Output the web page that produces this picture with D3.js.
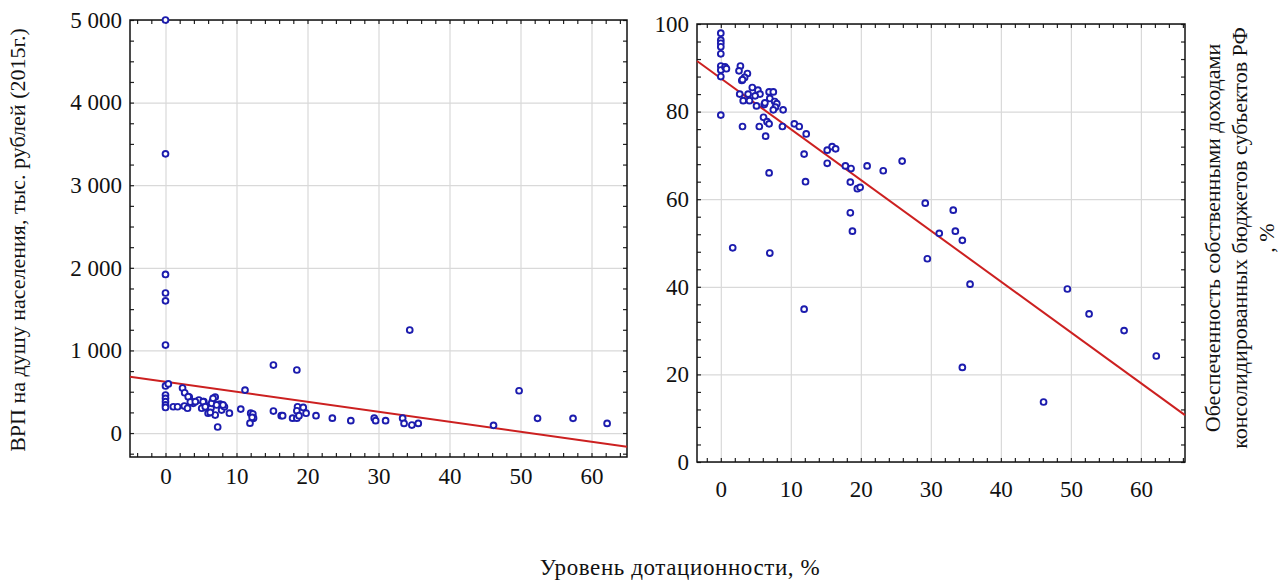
<!DOCTYPE html>
<html>
<head>
<meta charset="utf-8">
<script src="https://cdn.jsdelivr.net/npm/d3@7"></script>
<style>
  body { margin: 0; background: #fff; }
  text { font-family: "Liberation Serif", "Times New Roman", serif; fill: #111; }
</style>
</head>
<body>
<div id="container"></div>
<script>
// left panel: dotation level vs GRP per capita
let leftX = [0, 0, 0, 0, 0, 0, 0, 0.4, 0, 0, 0, 0, 0,
  1.1, 1.7, 2.4, 2.7, 2.65, 3.1, 3.35, 3.6, 3.9, 4.7, 5.1, 5.4, 5.8, 6.0, 6.4, 6.6, 7.0, 7.0, 7.35, 7.7, 7.9, 8.3, 9.0,
  10.6, 11.2, 12.0, 12.3, 12.4, 11.9, 3.2, 3.5, 4.2, 5.3, 5.6, 6.3, 6.5, 6.7, 7.2, 8.1, 12.2,
  15.2, 18.5, 15.2, 16.3, 16.5, 17.9, 18.5, 18.6, 18.5, 19.4, 18.8, 19.8, 21.2, 23.5, 26.1,
  29.4, 29.6, 31.0, 33.4, 33.6, 34.4, 34.7, 35.6, 46.2, 49.8, 52.4, 57.4, 62.2];
let leftY = [5000, 3380, 1920, 1695, 1600, 1065, 570, 595, 460, 420, 380, 340, 310,
  318, 318, 545, 488, 327, 300, 435, 380, 360, 400, 300, 380, 327, 240, 300, 385, 435, 218, 73, 350, 278, 318, 240,
  290, 520, 240, 230, 180, 120, 440, 375, 380, 380, 318, 250, 360, 420, 340, 340, 190,
  823, 763, 266, 210, 210, 180, 180, 318, 270, 310, 210, 240, 210, 180, 150,
  180, 150, 150, 180, 117, 1247, 97, 117, 93, 512, 178, 178, 117];
let leftFit = [620, -12.1]; // intercept, slope

// right panel: dotation level vs own revenue coverage
let rightX = [0, 0, 0, 0, 0, 0, 0, 0, 0, 0.6, 0.8,
  2.8, 2.6, 3.8, 3.4, 3.0, 3.1, 4.5, 5.3, 5.6, 4.9, 3.9, 2.7, 3.2, 4.1, 5.1, 6.2, 6.3, 6.9, 7.5, 7.0, 7.7, 8.0, 7.8,
  7.5, 8.9, 6.1, 6.6, 6.9, 3.1, 5.5, 8.8, 6.4, 10.5, 11.2, 12.2, 11.9, 6.9, 12.1, 15.2, 15.9, 16.4, 15.2,
  17.8, 18.6, 20.9, 23.2, 25.9, 18.5, 19.5, 19.9, 18.5, 18.8, 11.9, 29.2, 33.2, 33.5, 34.5, 31.2, 29.5,
  35.6, 34.5, 49.5, 52.6, 57.6, 62.2, 46.1, 1.7, 7.0];
let rightY = [97.9, 96.3, 95.6, 94.8, 93.2, 90.4, 89.5, 88.0, 79.2, 90.2, 89.8,
  90.4, 89.3, 88.7, 87.8, 87.1, 87.3, 85.5, 84.9, 84.0, 83.6, 84.0, 84.0, 82.5, 82.5, 81.3, 81.6, 82.0, 84.5, 84.5, 83.0, 82.3, 81.8, 81.0,
  80.4, 80.4, 78.7, 77.7, 77.2, 76.6, 76.6, 76.6, 74.4, 77.2, 76.6, 74.9, 70.3, 66.0, 64.0, 71.2, 72.0, 71.5, 68.2,
  67.6, 67.0, 67.6, 66.5, 68.7, 63.9, 62.4, 62.7, 56.9, 52.7, 34.9, 59.1, 57.5, 52.7, 50.6, 52.2, 46.4,
  40.6, 21.6, 39.5, 33.8, 30.0, 24.2, 13.7, 48.9, 47.7];
let rightFit = [87.6, -1.16];

let xTicks = [0, 10, 20, 30, 40, 50, 60];
let leftYTicks = [0, 1000, 2000, 3000, 4000, 5000];
let rightYTicks = [0, 20, 40, 60, 80, 100];

let w = 1284;
let h = 580;
let serif = "Liberation Serif";
let pointColor = "#1c1cae";
let lineColor = "#cc2020";

let viz = d3.select("#container")
  .append("svg")
    .attr("width", w)
    .attr("height", h)
;

// russian style thousands: "5 000"
function fmtThousands(v){
  return d3.format(",")(v).replace(/,/g, " ");
}

function drawPanel(opt){
  let xScale = d3.scaleLinear().domain(opt.xDomain).range([opt.left, opt.right]);
  let yScale = d3.scaleLinear().domain(opt.yDomain).range([opt.bottom, opt.top]);
  let pw = opt.right - opt.left;
  let ph = opt.bottom - opt.top;
  let g = viz.append("g");

  // grid
  g.append("g")
    .attr("transform", "translate(0," + opt.bottom + ")")
    .call(d3.axisBottom(xScale).tickValues(opt.xTicks).tickSize(-ph).tickFormat(""))
    .call(s => s.select(".domain").remove())
    .selectAll("line").attr("stroke", "#d9d9d9").attr("stroke-width", 1.2);
  g.append("g")
    .attr("transform", "translate(" + opt.left + ",0)")
    .call(d3.axisLeft(yScale).tickValues(opt.yTicks).tickSize(-pw).tickFormat(""))
    .call(s => s.select(".domain").remove())
    .selectAll("line").attr("stroke", "#d9d9d9").attr("stroke-width", 1.2);

  // minor ticks pointing inward on all four sides
  let xMinor = d3.range(Math.ceil(opt.xDomain[0] / opt.xMinor) * opt.xMinor, opt.xDomain[1] + 0.001, opt.xMinor);
  let yMinor = d3.range(Math.ceil(opt.yDomain[0] / opt.yMinor) * opt.yMinor, opt.yDomain[1] + 0.001, opt.yMinor);
  let sides = [
    [d3.axisBottom(xScale).tickValues(xMinor), "translate(0," + opt.bottom + ")"],
    [d3.axisTop(xScale).tickValues(xMinor), "translate(0," + opt.top + ")"],
    [d3.axisLeft(yScale).tickValues(yMinor), "translate(" + opt.left + ",0)"],
    [d3.axisRight(yScale).tickValues(yMinor), "translate(" + opt.right + ",0)"]
  ];
  sides.forEach(function(s){
    g.append("g")
      .attr("transform", s[1])
      .call(s[0].tickSize(-4).tickSizeOuter(0).tickFormat(""))
      .call(a => a.select(".domain").remove())
      .selectAll("line").attr("stroke", "#222").attr("stroke-width", 1.2);
  });

  g.append("rect")
    .attr("x", opt.left).attr("y", opt.top)
    .attr("width", pw).attr("height", ph)
    .attr("fill", "none").attr("stroke", "#111").attr("stroke-width", 1.5);

  // tick labels (font set after the axis call, which writes its own defaults)
  let xLab = g.append("g")
    .attr("transform", "translate(0," + opt.bottom + ")")
    .call(d3.axisBottom(xScale).tickValues(opt.xTicks).tickSize(0).tickPadding(opt.xPad))
    .attr("font-family", serif)
    .attr("font-size", 23);
  xLab.select(".domain").remove();
  xLab.selectAll("text").attr("fill", "#111");

  let yLab = g.append("g")
    .attr("transform", "translate(" + opt.left + ",0)")
    .call(d3.axisLeft(yScale).tickValues(opt.yTicks).tickSize(0).tickPadding(opt.yPad).tickFormat(opt.yFormat))
    .attr("font-family", serif)
    .attr("font-size", 23);
  yLab.select(".domain").remove();
  yLab.selectAll("text").attr("fill", "#111");

  // fitted line
  let fitLine = d3.line()
    .x(d => xScale(d))
    .y(d => yScale(opt.fit[0] + opt.fit[1] * d));
  g.append("path")
    .datum(opt.xDomain)
    .attr("d", fitLine)
    .attr("fill", "none")
    .attr("stroke", lineColor)
    .attr("stroke-width", 2);

  // points
  g.selectAll(".pt")
    .data(d3.range(opt.xs.length))
    .enter()
    .append("circle")
      .attr("class", "pt")
      .attr("cx", i => xScale(opt.xs[i]))
      .attr("cy", i => yScale(opt.ys[i]))
      .attr("r", 2.9)
      .attr("fill", "#fff")
      .attr("stroke", pointColor)
      .attr("stroke-width", 1.9);
}

drawPanel({
  left: 130, right: 627, top: 20, bottom: 457,
  xDomain: [-5, 65], yDomain: [-290, 5000],
  xTicks: xTicks, yTicks: leftYTicks, xMinor: 2, yMinor: 250,
  xPad: 11, yPad: 8, yFormat: fmtThousands,
  xs: leftX, ys: leftY, fit: leftFit
});

drawPanel({
  left: 697, right: 1185, top: 24, bottom: 462,
  xDomain: [-3.4, 66.3], yDomain: [0, 100],
  xTicks: xTicks, yTicks: rightYTicks, xMinor: 2, yMinor: 4,
  xPad: 19, yPad: 8, yFormat: d3.format("d"),
  xs: rightX, ys: rightY, fit: rightFit
});

// axis titles
viz.append("text")
  .attr("transform", "translate(25,240) rotate(-90)")
  .attr("text-anchor", "middle")
  .attr("font-family", serif)
  .attr("font-size", 22)
  .text("ВРП на душу населения, тыс. рублей (2015г.)");

let rightTitle = ["Обеспеченность собственными доходами", "консолидированных бюджетов субъектов РФ", ", %"];
viz.selectAll(".rt")
  .data(rightTitle)
  .enter()
  .append("text")
    .attr("class", "rt")
    .attr("transform", (d, i) => "translate(" + (1220 + i * 27) + ",238) rotate(-90)")
    .attr("text-anchor", "middle")
    .attr("font-family", serif)
    .attr("font-size", 22)
    .text(d => d);

viz.append("text")
  .attr("x", 680)
  .attr("y", 575)
  .attr("text-anchor", "middle")
  .attr("font-family", serif)
  .attr("font-size", 23)
  .style("letter-spacing", "0.6px")
  .text("Уровень дотационности, %");
</script>
</body>
</html>
